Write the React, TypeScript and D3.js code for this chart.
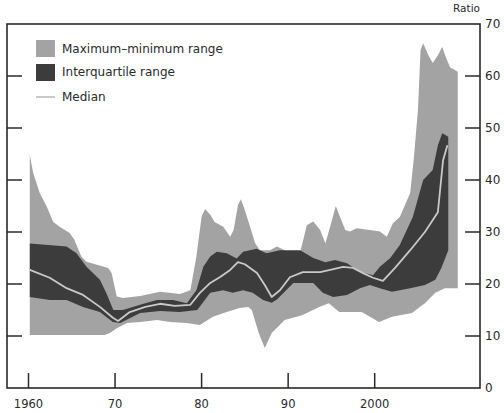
import React from "react";
import * as d3 from "d3";

// Ratio series, [year, value] pairs
const maxRange: [number, number][] = [
  [1960.15, 44.8], [1960.55, 41.3], [1961.3, 37.5], [1962.1, 34.9], [1962.86, 31.9],
  [1963.6, 31.0], [1964.75, 29.8], [1965.3, 28.5], [1966.1, 25.3], [1966.7, 24.3],
  [1967.9, 23.7], [1969.2, 23.1], [1969.6, 22.1], [1970.2, 17.6], [1970.9, 17.3],
  [1972.9, 17.7], [1975.2, 18.5], [1977.5, 18.1], [1978.7, 18.8], [1979.4, 25.3],
  [1980.0, 33.0], [1980.4, 34.4], [1981.0, 33.3], [1981.5, 31.9], [1982.5, 31.0],
  [1983.3, 29.1], [1983.7, 30.4], [1984.2, 35.2], [1984.55, 36.3], [1985.0, 34.2],
  [1985.6, 31.0], [1986.2, 27.8], [1986.75, 26.5], [1987.9, 26.5], [1988.7, 27.2],
  [1990.2, 26.0], [1991.4, 26.2], [1991.75, 28.5], [1992.15, 31.3], [1992.9, 32.0],
  [1993.7, 30.4], [1994.3, 27.8], [1994.85, 31.0], [1995.5, 35.0], [1996.0, 32.9],
  [1996.6, 30.4], [1997.15, 30.1], [1997.9, 30.7], [1999.45, 30.4], [2000.6, 30.1],
  [2001.4, 29.1], [2002.1, 31.7], [2002.9, 32.9], [2004.1, 37.5], [2004.5, 43.8],
  [2005.0, 53.5], [2005.3, 65.0], [2005.6, 66.3], [2006.2, 64.0], [2006.7, 62.5],
  [2007.3, 64.0], [2007.8, 65.6], [2008.2, 63.7], [2008.7, 61.7], [2009.6, 60.8],
];

const minRange: [number, number][] = [
  [1960.15, 10.2], [1968.8, 10.2], [1969.4, 10.6], [1970.2, 11.5], [1971.4, 12.5],
  [1972.9, 12.7], [1974.85, 13.1], [1976.35, 12.7], [1978.3, 12.5], [1979.8, 12.1],
  [1981.3, 13.7], [1982.9, 14.6], [1984.4, 15.4], [1985.4, 15.6], [1985.8, 15.0],
  [1986.6, 10.6], [1987.3, 7.7], [1988.1, 10.6], [1989.6, 13.1], [1991.6, 14.0],
  [1993.6, 15.6], [1994.7, 16.3], [1995.9, 14.6], [1998.5, 14.6], [2000.5, 12.7],
  [2002.0, 13.7], [2004.3, 14.4], [2005.8, 16.3], [2007.0, 18.3], [2008.1, 19.2],
  [2009.6, 19.2],
];

const upperQuartile: [number, number][] = [
  [1960.15, 27.8], [1964.4, 27.2], [1965.55, 25.9], [1966.7, 23.3], [1968.25, 20.8],
  [1969.0, 18.2], [1969.8, 15.0], [1970.9, 15.0], [1972.9, 16.0], [1974.85, 16.9],
  [1976.7, 16.9], [1978.3, 16.3], [1979.4, 18.8], [1980.2, 23.3], [1981.0, 25.3],
  [1981.75, 26.2], [1982.9, 25.9], [1984.05, 24.9], [1984.8, 26.2], [1986.35, 26.8],
  [1987.5, 25.9], [1989.05, 26.5], [1991.4, 26.5], [1992.9, 25.0], [1994.3, 24.2],
  [1995.4, 24.6], [1996.8, 24.0], [1998.3, 22.3], [1999.8, 21.7], [2000.6, 23.3],
  [2001.8, 25.0], [2002.9, 27.5], [2004.4, 32.9], [2005.6, 40.0], [2006.7, 41.9],
  [2007.3, 46.7], [2007.8, 49.0], [2008.5, 48.3],
];

const lowerQuartile: [number, number][] = [
  [1960.15, 17.5], [1962.45, 16.9], [1964.4, 16.9], [1966.3, 15.6], [1968.25, 14.6],
  [1969.75, 12.7], [1970.6, 12.5], [1972.9, 14.4], [1975.2, 14.8], [1977.5, 14.6],
  [1979.5, 15.0], [1981.0, 18.3], [1982.5, 18.8], [1983.6, 18.3], [1984.8, 18.8],
  [1985.9, 18.3], [1987.1, 16.9], [1988.1, 16.4], [1988.7, 17.0], [1990.6, 20.2],
  [1992.9, 20.2], [1994.0, 18.3], [1995.2, 17.5], [1996.8, 17.9], [1998.3, 19.2],
  [1999.45, 19.8], [2000.6, 19.2], [2002.0, 18.5], [2004.1, 19.2], [2005.8, 19.8],
  [2007.0, 20.8], [2007.7, 23.1], [2008.5, 26.5],
];

const median: [number, number][] = [
  [1960.15, 22.7], [1962.45, 21.2], [1964.4, 19.2], [1966.3, 17.9], [1968.25, 15.6],
  [1969.75, 13.5], [1970.35, 12.9], [1971.7, 14.6], [1973.5, 15.6], [1975.2, 16.2],
  [1976.9, 15.8], [1978.7, 16.0], [1979.8, 18.3], [1981.0, 20.2], [1982.1, 21.3],
  [1983.3, 22.7], [1984.2, 24.2], [1985.0, 23.8], [1986.4, 22.1], [1987.3, 19.8],
  [1988.1, 17.5], [1989.05, 18.8], [1990.2, 21.3], [1991.7, 22.3], [1993.7, 22.3],
  [1994.85, 22.7], [1996.35, 23.3], [1997.5, 23.1], [1998.65, 22.1], [1999.8, 21.2],
  [2000.95, 20.6], [2002.35, 23.1], [2004.1, 26.5], [2005.8, 30.0], [2007.3, 33.8],
  [2007.9, 43.8], [2008.4, 46.7],
];

const yearTicks = [1960, 1970, 1980, 1990, 2000];
const yearTickLabels = ["1960", "70", "80", "90", "2000"];
const ratioTicks = [0, 10, 20, 30, 40, 50, 60, 70];

const legendItems = ["Maximum–minimum range", "Interquartile range", "Median"];

const W = 504;
const H = 413;
const plot = { left: 7, right: 480, top: 24, bottom: 388 };

const RANGE_FILL = "#a3a3a3";
const IQR_FILL = "#3c3c3c";
const MEDIAN_STROKE = "#c9c9c9";
const INK = "#2a2a2a";
const FONT = "DejaVu Sans, sans-serif";

export default function App() {
  const x = d3.scaleLinear().domain([1960, 2000]).range([28.5, 374.7]);
  const y = d3.scaleLinear().domain([0, 70]).range([plot.bottom, plot.top]);

  const line = d3
    .line<[number, number]>()
    .x((d) => x(d[0]))
    .y((d) => y(d[1]));

  const band = (upper: [number, number][], lower: [number, number][]) =>
    (line([...upper, ...[...lower].reverse()]) ?? "") + "Z";

  const tickLen = 15;

  return (
    <svg
      width={W}
      height={H}
      viewBox={`0 0 ${W} ${H}`}
      style={{ position: "fixed", left: 0, top: 0, background: "#fff" }}
      fontFamily={FONT}
    >
      {/* data bands */}
      <path d={band(maxRange, minRange)} fill={RANGE_FILL} />
      <path d={band(upperQuartile, lowerQuartile)} fill={IQR_FILL} />
      <path
        d={line(median) ?? ""}
        fill="none"
        stroke={MEDIAN_STROKE}
        strokeWidth={1.8}
        strokeLinejoin="round"
      />

      {/* frame */}
      <rect
        x={plot.left}
        y={plot.top}
        width={plot.right - plot.left}
        height={plot.bottom - plot.top}
        fill="none"
        stroke={INK}
        strokeWidth={1.6}
      />

      {/* inward ticks on both sides */}
      {ratioTicks
        .filter((v) => v > 0 && v < 70)
        .map((v) => (
          <g key={`t${v}`} stroke={INK} strokeWidth={1.5}>
            <line x1={plot.left} x2={plot.left + tickLen} y1={y(v)} y2={y(v)} />
            <line x1={plot.right - tickLen} x2={plot.right} y1={y(v)} y2={y(v)} />
          </g>
        ))}
      {yearTicks.map((yr) => (
        <line
          key={`x${yr}`}
          x1={x(yr)}
          x2={x(yr)}
          y1={plot.bottom - tickLen}
          y2={plot.bottom}
          stroke={INK}
          strokeWidth={1.5}
        />
      ))}

      {/* right-hand ratio labels */}
      {ratioTicks.map((v) => (
        <text
          key={`l${v}`}
          x={plot.right + 5}
          y={y(v)}
          dy="0.36em"
          fontSize={12}
          fill={INK}
        >
          {v}
        </text>
      ))}
      <text x={plot.right} y={12} textAnchor="end" fontSize={10.5} fill={INK}>
        Ratio
      </text>

      {/* year labels */}
      {yearTicks.map((yr, i) => (
        <text
          key={`yl${yr}`}
          x={x(yr)}
          y={408}
          textAnchor="middle"
          fontSize={11.5}
          fill={INK}
        >
          {yearTickLabels[i]}
        </text>
      ))}

      {/* legend */}
      <g fontSize={12} fill={INK}>
        <rect x={36} y={40} width={19} height={17} fill={RANGE_FILL} />
        <text x={62} y={53}>{legendItems[0]}</text>
        <rect x={36} y={64} width={19} height={17} fill={IQR_FILL} />
        <text x={62} y={76}>{legendItems[1]}</text>
        <line x1={36} x2={55} y1={97} y2={97} stroke={MEDIAN_STROKE} strokeWidth={2} />
        <text x={62} y={101}>{legendItems[2]}</text>
      </g>
    </svg>
  );
}
